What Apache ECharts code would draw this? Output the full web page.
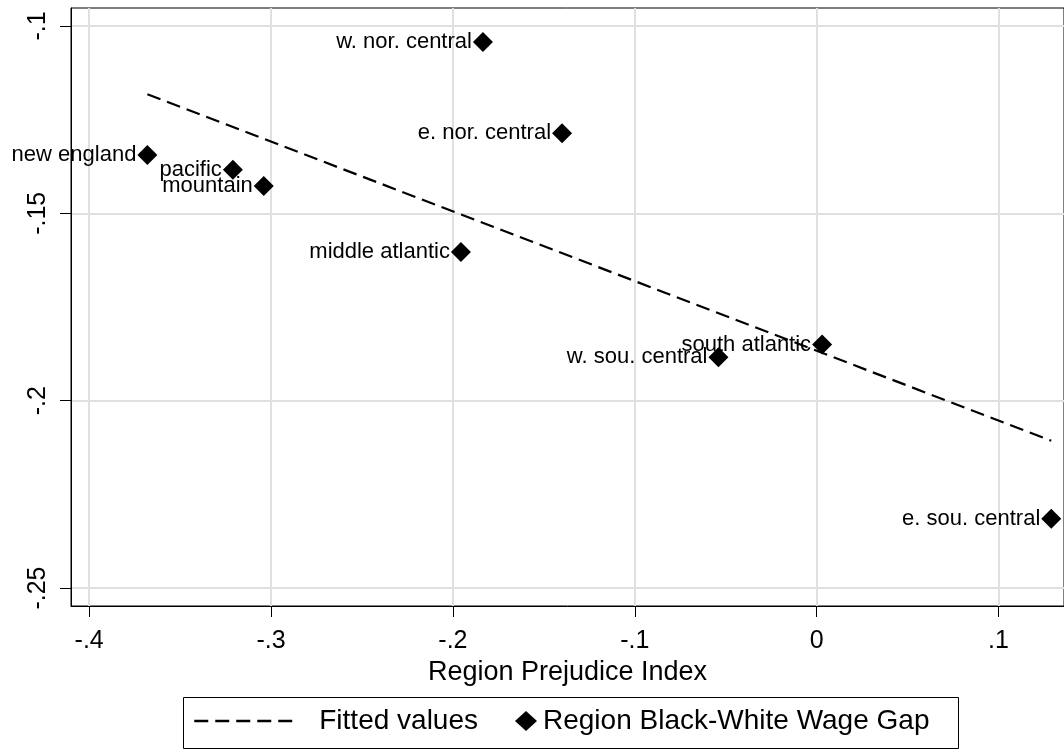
<!DOCTYPE html>
<html>
<head>
<meta charset="utf-8">
<script src="https://cdn.jsdelivr.net/npm/echarts@6/dist/echarts.min.js"></script>
<style>
  html, body { margin: 0; padding: 0; background: #fff; }
  #chart { width: 1064px; height: 749px; }
</style>
</head>
<body>
<div id="chart"></div>
<script>
const regions = [
  "new england", "pacific", "mountain", "w. nor. central", "e. nor. central",
  "middle atlantic", "w. sou. central", "south atlantic", "e. sou. central"
];
const prejudiceIndex = [-0.368, -0.321, -0.304, -0.1835, -0.140, -0.1956, -0.054, 0.003, 0.129];
const wageGap = [-0.1344, -0.1384, -0.1427, -0.1043, -0.1286, -0.1603, -0.1884, -0.1850, -0.2315];

// fitted line end points
const fitX = [-0.368, 0.129];
const fitY = [-0.1182, -0.2107];

const xTicks = [-0.4, -0.3, -0.2, -0.1, 0, 0.1];
const yTicks = [-0.25, -0.2, -0.15, -0.1];

const FONT = "Liberation Sans, Arial, sans-serif";

// stata style: -.1, .1, 0
const fmt = (v) => (v === 0 ? "0" : String(v).replace("0.", "."));

const chart = echarts.init(document.getElementById("chart"));

const option = {
  backgroundColor: "#fff",
  animation: false,
  grid: {
    left: 71,
    right: -1,
    top: 8,
    bottom: 143,
    show: true,
    borderColor: "#000",
    borderWidth: 1,
  },
  xAxis: {
    type: "value",
    min: -0.41,
    max: 0.136,
    name: "Region Prejudice Index",
    nameLocation: "middle",
    nameGap: 46,
    nameTextStyle: { fontFamily: FONT, fontSize: 27, color: "#000" },
    axisLine: { show: true, onZero: false, lineStyle: { color: "#000", width: 1 } },
    axisTick: {
      show: true,
      length: 11,
      customValues: xTicks,
      lineStyle: { color: "#000", width: 1 },
    },
    axisLabel: {
      customValues: xTicks,
      formatter: fmt,
      margin: 23,
      fontFamily: FONT,
      fontSize: 25,
      color: "#000",
    },
    splitLine: {
      show: true,
      customValues: xTicks,
      lineStyle: { color: "#e0e0e0", width: 2 },
    },
  },
  yAxis: {
    type: "value",
    min: -0.2548,
    max: -0.0952,
    axisLine: { show: true, onZero: false, lineStyle: { color: "#000", width: 1 } },
    axisTick: {
      show: true,
      length: 11,
      customValues: yTicks,
      lineStyle: { color: "#000", width: 1 },
    },
    axisLabel: {
      customValues: yTicks,
      formatter: fmt,
      rotate: 90,
      margin: 20,
      fontFamily: FONT,
      fontSize: 25,
      color: "#000",
    },
    splitLine: {
      show: true,
      customValues: yTicks,
      lineStyle: { color: "#e0e0e0", width: 2 },
    },
  },
  legend: [
    {
      data: ["Fitted values"],
      left: 193,
      top: 707,
      itemWidth: 104,
      itemHeight: 14,
      padding: 0,
      itemStyle: { opacity: 0 },
      lineStyle: { color: "#000", width: 2.5, type: [14, 7] },
      textStyle: {
        fontFamily: FONT,
        fontSize: 28,
        color: "#000",
        padding: [0, 0, 0, 16],
      },
    },
    {
      data: ["Region Black-White Wage Gap"],
      left: 515,
      top: 707,
      itemWidth: 22,
      itemHeight: 20,
      padding: 0,
      textStyle: {
        fontFamily: FONT,
        fontSize: 28,
        color: "#000",
        padding: [0, 0, 0, 1],
      },
    },
  ],
  graphic: [
    {
      type: "rect",
      shape: { x: 183.5, y: 697.5, width: 775, height: 51 },
      style: { fill: "none", stroke: "#000", lineWidth: 1 },
      silent: true,
    },
  ],
  series: [
    {
      name: "Fitted values",
      type: "line",
      data: fitX.map((x, i) => [x, fitY[i]]),
      symbol: "none",
      lineStyle: { color: "#000", width: 2.2, type: [14, 7] },
      itemStyle: { color: "#000" },
      z: 3,
    },
    {
      name: "Region Black-White Wage Gap",
      type: "scatter",
      symbol: "diamond",
      symbolSize: 20,
      data: prejudiceIndex.map((x, i) => ({ value: [x, wageGap[i]], name: regions[i] })),
      itemStyle: { color: "#000", opacity: 1 },
      label: {
        show: true,
        position: "left",
        distance: 1,
        formatter: (p) => p.name,
        fontFamily: FONT,
        fontSize: 22,
        color: "#000",
      },
      z: 4,
    },
  ],
};

chart.setOption(option);
</script>
</body>
</html>
